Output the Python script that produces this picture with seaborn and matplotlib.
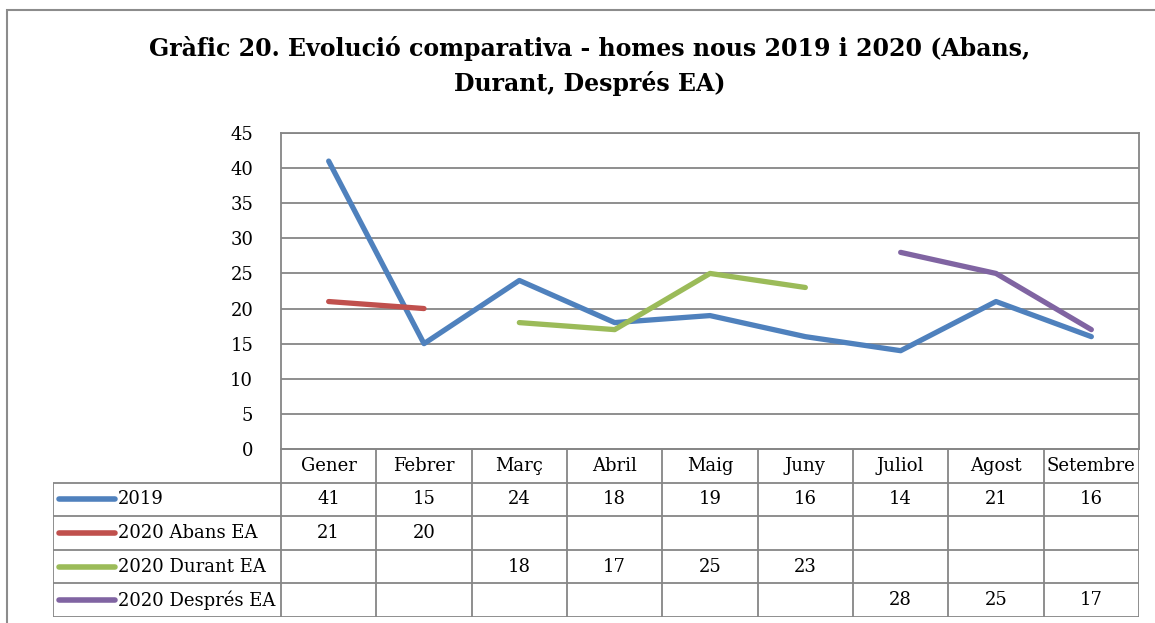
"""Evolució comparativa homes nous 2019 i 2020, amb taula de dades a sota."""

import numpy as np
import pandas as pd
import matplotlib
matplotlib.use("Agg")
import matplotlib.pyplot as plt
import seaborn as sns
from matplotlib.patches import Rectangle
from matplotlib.lines import Line2D

# ── Data ──────────────────────────────────────────────────────────────
months = ["Gener", "Febrer", "Març", "Abril", "Maig", "Juny", "Juliol", "Agost", "Setembre"]
series_names = ["2019", "2020 Abans EA", "2020 Durant EA", "2020 Després EA"]
vals_2019 = [41, 15, 24, 18, 19, 16, 14, 21, 16]
vals_abans = [21, 20, None, None, None, None, None, None, None]
vals_durant = [None, None, 18, 17, 25, 23, None, None, None]
vals_despres = [None, None, None, None, None, None, 28, 25, 17]
colors = ["#4F81BD", "#C0504D", "#9BBB59", "#8064A2"]
title = "Gràfic 20. Evolució comparativa - homes nous 2019 i 2020 (Abans,\nDurant, Després EA)"

all_vals = [vals_2019, vals_abans, vals_durant, vals_despres]
records = []
for name, vals in zip(series_names, all_vals):
    for i, v in enumerate(vals):
        if v is not None:
            records.append({"serie": name, "mes": i, "valor": v})
df = pd.DataFrame(records)

# ── Style ─────────────────────────────────────────────────────────────
sns.set_theme(style="white")
plt.rcParams["font.family"] = ["DejaVu Serif"]
plt.rcParams["text.color"] = "black"
GRID = "#868686"
FS = 13
W, H = 1155, 623

fig = plt.figure(figsize=(W / 100, H / 100), dpi=100)

def px_axes(x0, y0, x1, y1):
    return fig.add_axes([x0 / W, 1 - y1 / H, (x1 - x0) / W, (y1 - y0) / H])

# outer chart frame (right and bottom edges fall off the image)
fig.add_artist(Rectangle((7 / W, -0.1), 1.2, 1 - 10 / H + 0.1, transform=fig.transFigure,
                         fill=False, edgecolor="#8C8C8C", linewidth=1.5))

fig.text(590 / W, 1 - 66 / H, title, ha="center", va="center", fontsize=17,
         fontweight="bold", linespacing=1.5, color="black")

# ── Line plot ─────────────────────────────────────────────────────────
ax = px_axes(281, 133, 1139, 449)
sns.lineplot(data=df, x="mes", y="valor", hue="serie", hue_order=series_names,
             palette=colors, linewidth=3.8, legend=False, ax=ax,
             solid_capstyle="round")
ax.set_xlim(-0.5, len(months) - 0.5)
ax.set_ylim(0, 45)
ax.set_yticks(np.arange(0, 46, 5))
ax.set_xticks([])
ax.set_xlabel("")
ax.set_ylabel("")
ax.yaxis.grid(True, color=GRID, linewidth=1.3)
ax.set_axisbelow(True)
for s in ax.spines.values():
    s.set_color(GRID)
    s.set_linewidth(1.3)
ax.tick_params(axis="y", length=0, pad=20, labelsize=FS, labelcolor="black")

# ── Data table ────────────────────────────────────────────────────────
col_w = (1139 - 281) / len(months)
left_x = -0.5 - (281 - 53) / col_w
tab = px_axes(53, 449, 1139, 617)
tab.set_xlim(left_x, len(months) - 0.5)
tab.set_ylim(len(series_names) + 1, 0)
tab.axis("off")

lw = 1.3
n_rows = len(series_names) + 1
# header row borders
tab.hlines(0, -0.5, len(months) - 0.5, color=GRID, linewidth=lw)
for k in range(len(months) + 1):
    tab.vlines(k - 0.5, 0, n_rows, color=GRID, linewidth=lw)
for r in range(1, n_rows + 1):
    tab.hlines(r, left_x, len(months) - 0.5, color=GRID, linewidth=lw)
tab.vlines(left_x, 1, n_rows, color=GRID, linewidth=lw)

for j, m in enumerate(months):
    tab.text(j, 0.5, m, ha="center", va="center", fontsize=FS)
for r, (name, vals, c) in enumerate(zip(series_names, all_vals, colors), start=1):
    x0 = left_x + 6 / col_w
    x1 = left_x + 62 / col_w
    tab.add_line(Line2D([x0, x1], [r + 0.5, r + 0.5], color=c, linewidth=4,
                        solid_capstyle="round"))
    tab.text(x1 + 3 / col_w, r + 0.5, name, ha="left", va="center", fontsize=FS)
    for j, v in enumerate(vals):
        if v is not None:
            tab.text(j, r + 0.5, str(v), ha="center", va="center", fontsize=FS)

fig.savefig("out.png", dpi=100)
